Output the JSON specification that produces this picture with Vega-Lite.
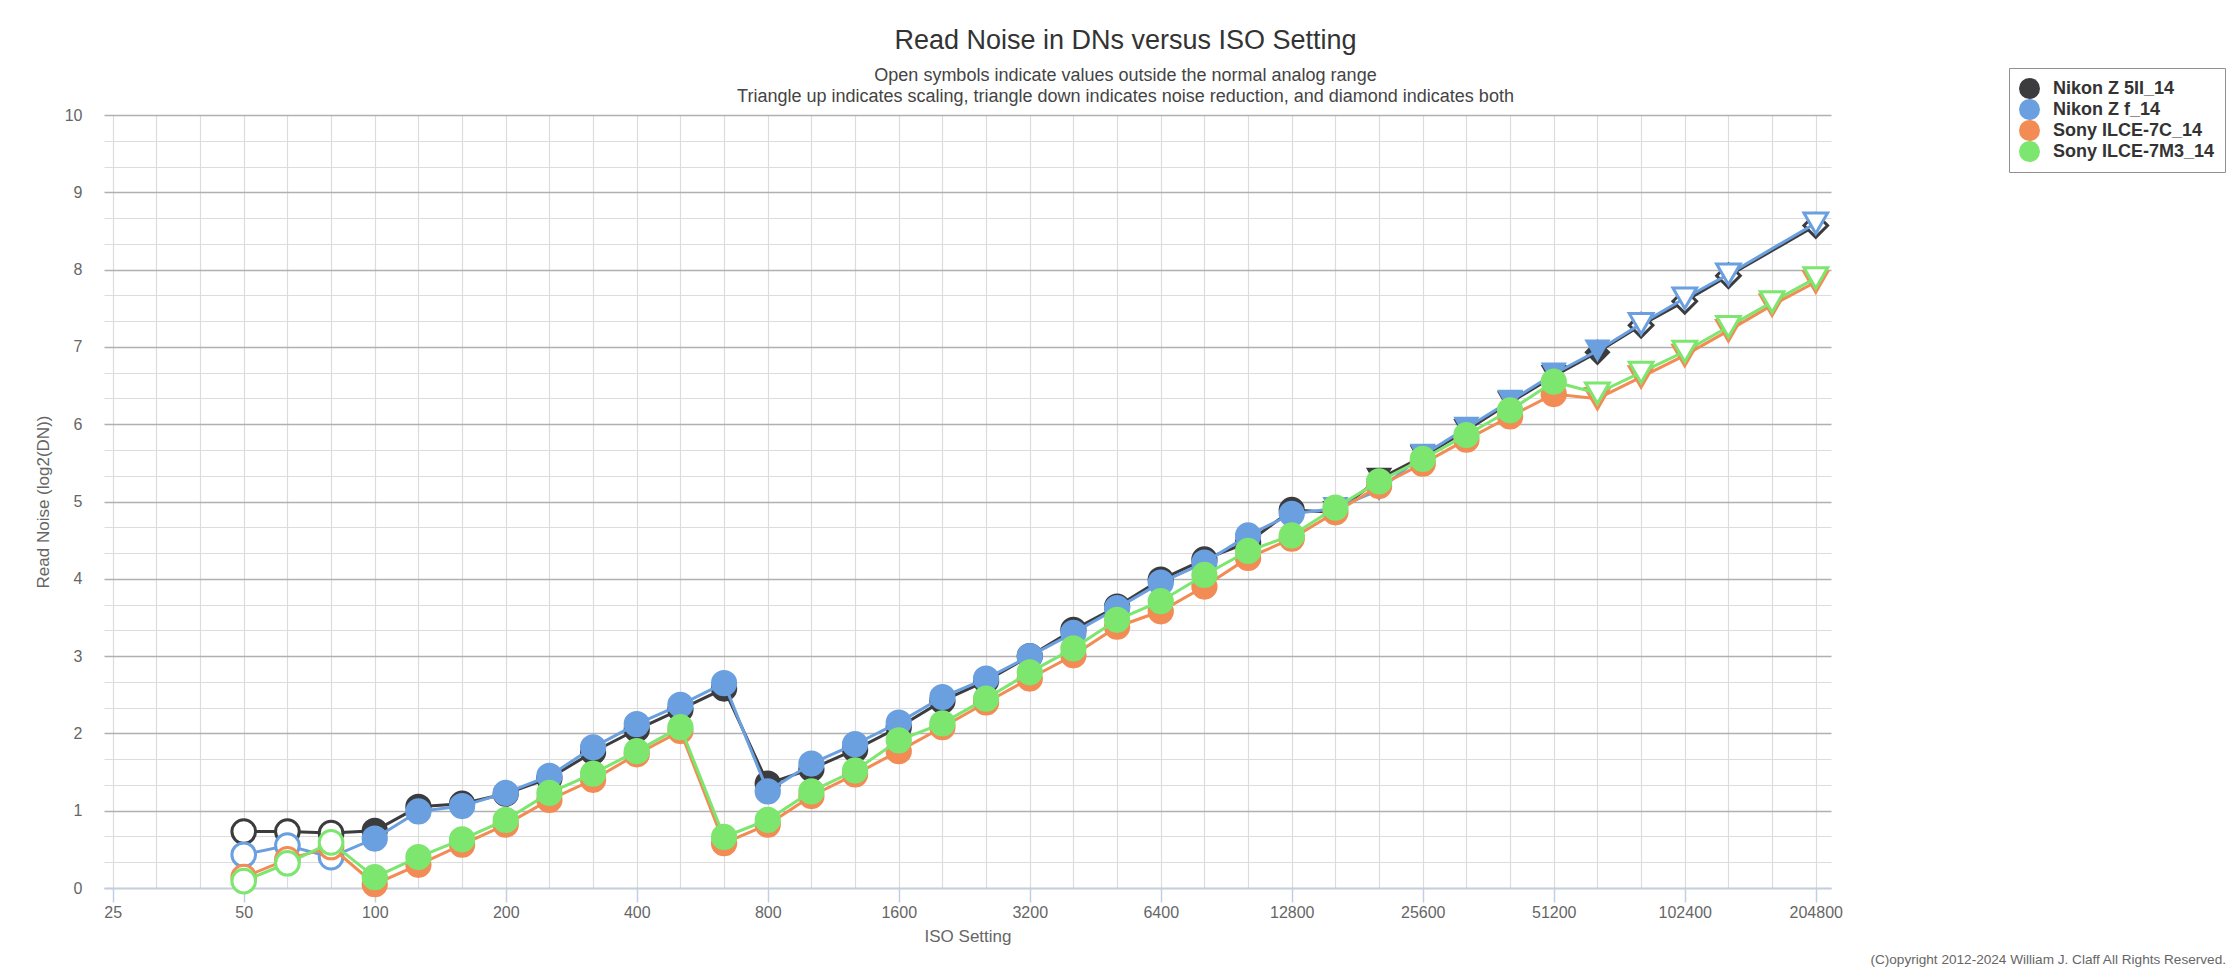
{
"$schema": "https://vega.github.io/schema/vega-lite/v6.json",
"width": 1727, "height": 773,
"autosize": {"type": "none"},
"padding": {"left": 104, "top": 115, "right": 403, "bottom": 83},
"background": "#ffffff",
"config": {"font": "Liberation Sans", "view": {"stroke": null}},
"title": {"text": "Read Noise in DNs versus ISO Setting",
  "subtitle": ["Open symbols indicate values outside the normal analog range", "Triangle up indicates scaling, triangle down indicates noise reduction, and diamond indicates both"],
  "anchor": "middle", "frame": "group", "dx": 158, "dy": 46, "offset": 7,
  "font": "Liberation Sans", "fontSize": 27, "fontWeight": "normal", "color": "#333333",
  "subtitleFont": "Liberation Sans", "subtitleFontSize": 18, "subtitleColor": "#444444", "subtitleLineHeight": 21, "subtitlePadding": 12},
"datasets": {"noise": [
{"camera":"Nikon Z 5II_14","iso":50,"noise":0.73,"marker":"circle","open":true},
{"camera":"Nikon Z 5II_14","iso":62.996,"noise":0.73,"marker":"circle","open":true},
{"camera":"Nikon Z 5II_14","iso":79.37,"noise":0.71,"marker":"circle","open":true},
{"camera":"Nikon Z 5II_14","iso":100,"noise":0.74,"marker":"circle","open":false},
{"camera":"Nikon Z 5II_14","iso":125.99,"noise":1.05,"marker":"circle","open":false},
{"camera":"Nikon Z 5II_14","iso":158.74,"noise":1.09,"marker":"circle","open":false},
{"camera":"Nikon Z 5II_14","iso":200,"noise":1.22,"marker":"circle","open":false},
{"camera":"Nikon Z 5II_14","iso":251.98,"noise":1.42,"marker":"circle","open":false},
{"camera":"Nikon Z 5II_14","iso":317.48,"noise":1.76,"marker":"circle","open":false},
{"camera":"Nikon Z 5II_14","iso":400,"noise":2.05,"marker":"circle","open":false},
{"camera":"Nikon Z 5II_14","iso":503.97,"noise":2.31,"marker":"circle","open":false},
{"camera":"Nikon Z 5II_14","iso":634.96,"noise":2.58,"marker":"circle","open":false},
{"camera":"Nikon Z 5II_14","iso":800,"noise":1.35,"marker":"circle","open":false},
{"camera":"Nikon Z 5II_14","iso":1007.94,"noise":1.54,"marker":"circle","open":false},
{"camera":"Nikon Z 5II_14","iso":1269.92,"noise":1.79,"marker":"circle","open":false},
{"camera":"Nikon Z 5II_14","iso":1600,"noise":2.08,"marker":"circle","open":false},
{"camera":"Nikon Z 5II_14","iso":2015.87,"noise":2.42,"marker":"circle","open":false},
{"camera":"Nikon Z 5II_14","iso":2539.84,"noise":2.68,"marker":"circle","open":false},
{"camera":"Nikon Z 5II_14","iso":3200,"noise":3.0,"marker":"circle","open":false},
{"camera":"Nikon Z 5II_14","iso":4031.75,"noise":3.34,"marker":"circle","open":false},
{"camera":"Nikon Z 5II_14","iso":5079.68,"noise":3.64,"marker":"circle","open":false},
{"camera":"Nikon Z 5II_14","iso":6400,"noise":3.99,"marker":"circle","open":false},
{"camera":"Nikon Z 5II_14","iso":8063.5,"noise":4.25,"marker":"circle","open":false},
{"camera":"Nikon Z 5II_14","iso":10159.37,"noise":4.47,"marker":"circle","open":false},
{"camera":"Nikon Z 5II_14","iso":12800,"noise":4.89,"marker":"circle","open":false},
{"camera":"Nikon Z 5II_14","iso":16126.99,"noise":4.86,"marker":"triangle-down","open":false},
{"camera":"Nikon Z 5II_14","iso":20318.73,"noise":5.29,"marker":"triangle-down","open":false},
{"camera":"Nikon Z 5II_14","iso":25600,"noise":5.58,"marker":"triangle-down","open":false},
{"camera":"Nikon Z 5II_14","iso":32253.98,"noise":5.92,"marker":"triangle-down","open":false},
{"camera":"Nikon Z 5II_14","iso":40637.47,"noise":6.28,"marker":"triangle-down","open":false},
{"camera":"Nikon Z 5II_14","iso":51200,"noise":6.62,"marker":"triangle-down","open":false},
{"camera":"Nikon Z 5II_14","iso":64507.96,"noise":6.93,"marker":"diamond","open":false},
{"camera":"Nikon Z 5II_14","iso":81274.93,"noise":7.28,"marker":"diamond","open":true},
{"camera":"Nikon Z 5II_14","iso":102400,"noise":7.59,"marker":"diamond","open":true},
{"camera":"Nikon Z 5II_14","iso":129015.92,"noise":7.92,"marker":"diamond","open":true},
{"camera":"Nikon Z 5II_14","iso":204800,"noise":8.57,"marker":"diamond","open":true},
{"camera":"Nikon Z f_14","iso":50,"noise":0.43,"marker":"circle","open":true},
{"camera":"Nikon Z f_14","iso":62.996,"noise":0.55,"marker":"circle","open":true},
{"camera":"Nikon Z f_14","iso":79.37,"noise":0.40,"marker":"circle","open":true},
{"camera":"Nikon Z f_14","iso":100,"noise":0.64,"marker":"circle","open":false},
{"camera":"Nikon Z f_14","iso":125.99,"noise":0.99,"marker":"circle","open":false},
{"camera":"Nikon Z f_14","iso":158.74,"noise":1.06,"marker":"circle","open":false},
{"camera":"Nikon Z f_14","iso":200,"noise":1.23,"marker":"circle","open":false},
{"camera":"Nikon Z f_14","iso":251.98,"noise":1.45,"marker":"circle","open":false},
{"camera":"Nikon Z f_14","iso":317.48,"noise":1.82,"marker":"circle","open":false},
{"camera":"Nikon Z f_14","iso":400,"noise":2.12,"marker":"circle","open":false},
{"camera":"Nikon Z f_14","iso":503.97,"noise":2.37,"marker":"circle","open":false},
{"camera":"Nikon Z f_14","iso":634.96,"noise":2.65,"marker":"circle","open":false},
{"camera":"Nikon Z f_14","iso":800,"noise":1.25,"marker":"circle","open":false},
{"camera":"Nikon Z f_14","iso":1007.94,"noise":1.61,"marker":"circle","open":false},
{"camera":"Nikon Z f_14","iso":1269.92,"noise":1.86,"marker":"circle","open":false},
{"camera":"Nikon Z f_14","iso":1600,"noise":2.14,"marker":"circle","open":false},
{"camera":"Nikon Z f_14","iso":2015.87,"noise":2.47,"marker":"circle","open":false},
{"camera":"Nikon Z f_14","iso":2539.84,"noise":2.71,"marker":"circle","open":false},
{"camera":"Nikon Z f_14","iso":3200,"noise":3.0,"marker":"circle","open":false},
{"camera":"Nikon Z f_14","iso":4031.75,"noise":3.30,"marker":"circle","open":false},
{"camera":"Nikon Z f_14","iso":5079.68,"noise":3.62,"marker":"circle","open":false},
{"camera":"Nikon Z f_14","iso":6400,"noise":3.95,"marker":"circle","open":false},
{"camera":"Nikon Z f_14","iso":8063.5,"noise":4.21,"marker":"circle","open":false},
{"camera":"Nikon Z f_14","iso":10159.37,"noise":4.56,"marker":"circle","open":false},
{"camera":"Nikon Z f_14","iso":12800,"noise":4.84,"marker":"circle","open":false},
{"camera":"Nikon Z f_14","iso":16126.99,"noise":4.91,"marker":"triangle-down","open":false},
{"camera":"Nikon Z f_14","iso":20318.73,"noise":5.15,"marker":"triangle-down","open":false},
{"camera":"Nikon Z f_14","iso":25600,"noise":5.60,"marker":"triangle-down","open":false},
{"camera":"Nikon Z f_14","iso":32253.98,"noise":5.95,"marker":"triangle-down","open":false},
{"camera":"Nikon Z f_14","iso":40637.47,"noise":6.30,"marker":"triangle-down","open":false},
{"camera":"Nikon Z f_14","iso":51200,"noise":6.65,"marker":"triangle-down","open":false},
{"camera":"Nikon Z f_14","iso":64507.96,"noise":6.95,"marker":"triangle-down","open":false},
{"camera":"Nikon Z f_14","iso":81274.93,"noise":7.30,"marker":"triangle-down","open":true},
{"camera":"Nikon Z f_14","iso":102400,"noise":7.63,"marker":"triangle-down","open":true},
{"camera":"Nikon Z f_14","iso":129015.92,"noise":7.94,"marker":"triangle-down","open":true},
{"camera":"Nikon Z f_14","iso":204800,"noise":8.60,"marker":"triangle-down","open":true},
{"camera":"Sony ILCE-7C_14","iso":50,"noise":0.14,"marker":"circle","open":true},
{"camera":"Sony ILCE-7C_14","iso":62.996,"noise":0.37,"marker":"circle","open":true},
{"camera":"Sony ILCE-7C_14","iso":79.37,"noise":0.53,"marker":"circle","open":true},
{"camera":"Sony ILCE-7C_14","iso":100,"noise":0.05,"marker":"circle","open":false},
{"camera":"Sony ILCE-7C_14","iso":125.99,"noise":0.30,"marker":"circle","open":false},
{"camera":"Sony ILCE-7C_14","iso":158.74,"noise":0.56,"marker":"circle","open":false},
{"camera":"Sony ILCE-7C_14","iso":200,"noise":0.82,"marker":"circle","open":false},
{"camera":"Sony ILCE-7C_14","iso":251.98,"noise":1.14,"marker":"circle","open":false},
{"camera":"Sony ILCE-7C_14","iso":317.48,"noise":1.40,"marker":"circle","open":false},
{"camera":"Sony ILCE-7C_14","iso":400,"noise":1.73,"marker":"circle","open":false},
{"camera":"Sony ILCE-7C_14","iso":503.97,"noise":2.03,"marker":"circle","open":false},
{"camera":"Sony ILCE-7C_14","iso":634.96,"noise":0.58,"marker":"circle","open":false},
{"camera":"Sony ILCE-7C_14","iso":800,"noise":0.82,"marker":"circle","open":false},
{"camera":"Sony ILCE-7C_14","iso":1007.94,"noise":1.19,"marker":"circle","open":false},
{"camera":"Sony ILCE-7C_14","iso":1269.92,"noise":1.47,"marker":"circle","open":false},
{"camera":"Sony ILCE-7C_14","iso":1600,"noise":1.77,"marker":"circle","open":false},
{"camera":"Sony ILCE-7C_14","iso":2015.87,"noise":2.08,"marker":"circle","open":false},
{"camera":"Sony ILCE-7C_14","iso":2539.84,"noise":2.40,"marker":"circle","open":false},
{"camera":"Sony ILCE-7C_14","iso":3200,"noise":2.71,"marker":"circle","open":false},
{"camera":"Sony ILCE-7C_14","iso":4031.75,"noise":3.01,"marker":"circle","open":false},
{"camera":"Sony ILCE-7C_14","iso":5079.68,"noise":3.38,"marker":"circle","open":false},
{"camera":"Sony ILCE-7C_14","iso":6400,"noise":3.58,"marker":"circle","open":false},
{"camera":"Sony ILCE-7C_14","iso":8063.5,"noise":3.90,"marker":"circle","open":false},
{"camera":"Sony ILCE-7C_14","iso":10159.37,"noise":4.27,"marker":"circle","open":false},
{"camera":"Sony ILCE-7C_14","iso":12800,"noise":4.52,"marker":"circle","open":false},
{"camera":"Sony ILCE-7C_14","iso":16126.99,"noise":4.86,"marker":"circle","open":false},
{"camera":"Sony ILCE-7C_14","iso":20318.73,"noise":5.20,"marker":"circle","open":false},
{"camera":"Sony ILCE-7C_14","iso":25600,"noise":5.49,"marker":"circle","open":false},
{"camera":"Sony ILCE-7C_14","iso":32253.98,"noise":5.80,"marker":"circle","open":false},
{"camera":"Sony ILCE-7C_14","iso":40637.47,"noise":6.10,"marker":"circle","open":false},
{"camera":"Sony ILCE-7C_14","iso":51200,"noise":6.39,"marker":"circle","open":false},
{"camera":"Sony ILCE-7C_14","iso":64507.96,"noise":6.33,"marker":"triangle-down","open":true},
{"camera":"Sony ILCE-7C_14","iso":81274.93,"noise":6.61,"marker":"triangle-down","open":true},
{"camera":"Sony ILCE-7C_14","iso":102400,"noise":6.89,"marker":"triangle-down","open":true},
{"camera":"Sony ILCE-7C_14","iso":129015.92,"noise":7.21,"marker":"triangle-down","open":true},
{"camera":"Sony ILCE-7C_14","iso":162549.86,"noise":7.54,"marker":"triangle-down","open":true},
{"camera":"Sony ILCE-7C_14","iso":204800,"noise":7.84,"marker":"triangle-down","open":true},
{"camera":"Sony ILCE-7M3_14","iso":50,"noise":0.09,"marker":"circle","open":true},
{"camera":"Sony ILCE-7M3_14","iso":62.996,"noise":0.32,"marker":"circle","open":true},
{"camera":"Sony ILCE-7M3_14","iso":79.37,"noise":0.59,"marker":"circle","open":true},
{"camera":"Sony ILCE-7M3_14","iso":100,"noise":0.14,"marker":"circle","open":false},
{"camera":"Sony ILCE-7M3_14","iso":125.99,"noise":0.40,"marker":"circle","open":false},
{"camera":"Sony ILCE-7M3_14","iso":158.74,"noise":0.63,"marker":"circle","open":false},
{"camera":"Sony ILCE-7M3_14","iso":200,"noise":0.88,"marker":"circle","open":false},
{"camera":"Sony ILCE-7M3_14","iso":251.98,"noise":1.23,"marker":"circle","open":false},
{"camera":"Sony ILCE-7M3_14","iso":317.48,"noise":1.48,"marker":"circle","open":false},
{"camera":"Sony ILCE-7M3_14","iso":400,"noise":1.77,"marker":"circle","open":false},
{"camera":"Sony ILCE-7M3_14","iso":503.97,"noise":2.08,"marker":"circle","open":false},
{"camera":"Sony ILCE-7M3_14","iso":634.96,"noise":0.66,"marker":"circle","open":false},
{"camera":"Sony ILCE-7M3_14","iso":800,"noise":0.88,"marker":"circle","open":false},
{"camera":"Sony ILCE-7M3_14","iso":1007.94,"noise":1.25,"marker":"circle","open":false},
{"camera":"Sony ILCE-7M3_14","iso":1269.92,"noise":1.52,"marker":"circle","open":false},
{"camera":"Sony ILCE-7M3_14","iso":1600,"noise":1.91,"marker":"circle","open":false},
{"camera":"Sony ILCE-7M3_14","iso":2015.87,"noise":2.13,"marker":"circle","open":false},
{"camera":"Sony ILCE-7M3_14","iso":2539.84,"noise":2.45,"marker":"circle","open":false},
{"camera":"Sony ILCE-7M3_14","iso":3200,"noise":2.79,"marker":"circle","open":false},
{"camera":"Sony ILCE-7M3_14","iso":4031.75,"noise":3.10,"marker":"circle","open":false},
{"camera":"Sony ILCE-7M3_14","iso":5079.68,"noise":3.47,"marker":"circle","open":false},
{"camera":"Sony ILCE-7M3_14","iso":6400,"noise":3.71,"marker":"circle","open":false},
{"camera":"Sony ILCE-7M3_14","iso":8063.5,"noise":4.05,"marker":"circle","open":false},
{"camera":"Sony ILCE-7M3_14","iso":10159.37,"noise":4.36,"marker":"circle","open":false},
{"camera":"Sony ILCE-7M3_14","iso":12800,"noise":4.56,"marker":"circle","open":false},
{"camera":"Sony ILCE-7M3_14","iso":16126.99,"noise":4.92,"marker":"circle","open":false},
{"camera":"Sony ILCE-7M3_14","iso":20318.73,"noise":5.26,"marker":"circle","open":false},
{"camera":"Sony ILCE-7M3_14","iso":25600,"noise":5.55,"marker":"circle","open":false},
{"camera":"Sony ILCE-7M3_14","iso":32253.98,"noise":5.86,"marker":"circle","open":false},
{"camera":"Sony ILCE-7M3_14","iso":40637.47,"noise":6.18,"marker":"circle","open":false},
{"camera":"Sony ILCE-7M3_14","iso":51200,"noise":6.55,"marker":"circle","open":false},
{"camera":"Sony ILCE-7M3_14","iso":64507.96,"noise":6.40,"marker":"triangle-down","open":true},
{"camera":"Sony ILCE-7M3_14","iso":81274.93,"noise":6.67,"marker":"triangle-down","open":true},
{"camera":"Sony ILCE-7M3_14","iso":102400,"noise":6.94,"marker":"triangle-down","open":true},
{"camera":"Sony ILCE-7M3_14","iso":129015.92,"noise":7.26,"marker":"triangle-down","open":true},
{"camera":"Sony ILCE-7M3_14","iso":162549.86,"noise":7.58,"marker":"triangle-down","open":true},
{"camera":"Sony ILCE-7M3_14","iso":204800,"noise":7.89,"marker":"triangle-down","open":true}
],
"note": [{"note": "(C)opyright 2012-2024 William J. Claff All Rights Reserved.", "iso": 1795000, "noise": -0.93}]},
"data": {"name": "noise"},
"encoding": {
  "x": {"field": "iso", "type": "quantitative",
    "scale": {"type": "log", "base": 2, "domain": [23.87, 222000], "nice": false, "zero": false},
    "axis": {"title": "ISO Setting",
      "values": [25,31.498,39.685,50,62.996,79.37,100,125.992,158.74,200,251.984,317.48,400,503.968,634.96,800,1007.937,1269.921,1600,2015.874,2539.842,3200,4031.747,5079.683,6400,8063.495,10159.367,12800,16126.989,20318.733,25600,32253.979,40637.466,51200,64507.958,81274.931,102400,129015.916,162549.863,204800],
      "tickCount": 200,
      "format": "d",
      "labelExpr": "abs(log(datum.value/25)/log(2) - round(log(datum.value/25)/log(2))) < 0.01 ? datum.label : ''",
      "labelOverlap": false, "labelFlush": false,
      "labelFont": "Liberation Sans", "labelFontSize": 16, "labelColor": "#666666", "labelPadding": 2,
      "tickSize": 14, "tickWidth": 1.5, "tickColor": "#c3cfe0",
      "tickOpacity": {"condition": {"test": "abs(log(datum.value/25)/log(2) - round(log(datum.value/25)/log(2))) < 0.01", "value": 1}, "value": 0},
      "domainColor": "#c3cfe0", "domainWidth": 1.5,
      "grid": true, "gridColor": "#dcdcdc", "gridWidth": 1.2,
      "titleFont": "Liberation Sans", "titleFontSize": 17, "titleColor": "#666666", "titleFontWeight": "normal", "titlePadding": 8}},
  "y": {"field": "noise", "type": "quantitative",
    "scale": {"domain": [0, 10], "nice": false, "zero": true},
    "axis": {"title": "Read Noise (log2(DN))",
      "values": [0,0.33333,0.66667,1,1.33333,1.66667,2,2.33333,2.66667,3,3.33333,3.66667,4,4.33333,4.66667,5,5.33333,5.66667,6,6.33333,6.66667,7,7.33333,7.66667,8,8.33333,8.66667,9,9.33333,9.66667,10],
      "tickCount": 200, "tickMinStep": 0.1,
      "labelExpr": "abs(datum.value - round(datum.value)) < 0.001 ? '' + round(datum.value) : ''",
      "labelOverlap": false,
      "ticks": false, "domain": false, "labelPadding": 22,
      "labelFont": "Liberation Sans", "labelFontSize": 16, "labelColor": "#666666",
      "grid": true,
      "gridColor": {"condition": {"test": "abs(datum.value - round(datum.value)) < 0.001", "value": "#b0b0b0"}, "value": "#dcdcdc"},
      "gridWidth": {"condition": {"test": "abs(datum.value - round(datum.value)) < 0.001", "value": 1.6}, "value": 1.2},
      "titleFont": "Liberation Sans", "titleFontSize": 17, "titleColor": "#666666", "titleFontWeight": "normal", "titlePadding": 12}}
},
"layer": [
  {"data": {"name": "note"},
   "mark": {"type": "text", "align": "right", "font": "Liberation Sans", "fontSize": 13.6, "color": "#666666"},
   "encoding": {"text": {"field": "note", "type": "nominal"}}},
  {"transform": [{"filter": {"field": "camera", "equal": "Nikon Z 5II_14"}}],
   "mark": {"type": "line", "strokeWidth": 3},
   "encoding": {"color": {"field": "camera", "type": "nominal", "scale": {"domain": ["Nikon Z 5II_14","Nikon Z f_14","Sony ILCE-7C_14","Sony ILCE-7M3_14"], "range": ["#3c3c3e","#6a9fe0","#f28b54","#7ce66e"]},
     "legend": {"title": null, "orient": "none", "legendX": 1905, "legendY": -47, "symbolType": "circle", "symbolSize": 441, "symbolStrokeWidth": 0, "symbolOpacity": 1, "labelFont": "Liberation Sans", "labelFontSize": 18, "labelFontWeight": "bold", "labelColor": "#333333", "labelOffset": 13, "rowPadding": 0, "padding": 10, "strokeColor": "#909090", "fillColor": "#ffffff", "labelLimit": 400,
       "encode": {"symbols": {"update": {"fill": {"scale": "color", "field": "value"}, "shape": {"value": "circle"}, "strokeWidth": {"value": 0}}}}}}}},
  {"transform": [{"filter": {"field": "camera", "equal": "Nikon Z 5II_14"}}],
   "mark": {"type": "point", "filled": true, "opacity": 1},
   "encoding": {
     "fill": {"field": "camera", "type": "nominal", "scale": {"domain": ["Nikon Z 5II_14","Nikon Z f_14","Sony ILCE-7C_14","Sony ILCE-7M3_14"], "range": ["#3c3c3e","#6a9fe0","#f28b54","#7ce66e"]}, "legend": null, "condition": {"test": "datum.open", "value": "#ffffff"}},
     "stroke": {"field": "camera", "type": "nominal", "scale": {"domain": ["Nikon Z 5II_14","Nikon Z f_14","Sony ILCE-7C_14","Sony ILCE-7M3_14"], "range": ["#3c3c3e","#6a9fe0","#f28b54","#7ce66e"]}, "legend": null},
     "strokeWidth": {"condition": {"test": "datum.open", "value": 3}, "value": 0},
     "shape": {"field": "marker", "type": "nominal", "scale": {"domain": ["circle","triangle-down","diamond"], "range": ["circle","triangle-down","diamond"]}, "legend": null},
     "size": {"condition": {"test": "datum.open", "value": 560}, "value": 690}}},
  {"transform": [{"filter": {"field": "camera", "equal": "Nikon Z f_14"}}],
   "mark": {"type": "line", "strokeWidth": 3},
   "encoding": {"color": {"field": "camera", "type": "nominal", "scale": {"domain": ["Nikon Z 5II_14","Nikon Z f_14","Sony ILCE-7C_14","Sony ILCE-7M3_14"], "range": ["#3c3c3e","#6a9fe0","#f28b54","#7ce66e"]},
     "legend": {"title": null, "orient": "none", "legendX": 1905, "legendY": -47, "symbolType": "circle", "symbolSize": 441, "symbolStrokeWidth": 0, "symbolOpacity": 1, "labelFont": "Liberation Sans", "labelFontSize": 18, "labelFontWeight": "bold", "labelColor": "#333333", "labelOffset": 13, "rowPadding": 0, "padding": 10, "strokeColor": "#909090", "fillColor": "#ffffff", "labelLimit": 400,
       "encode": {"symbols": {"update": {"fill": {"scale": "color", "field": "value"}, "shape": {"value": "circle"}, "strokeWidth": {"value": 0}}}}}}}},
  {"transform": [{"filter": {"field": "camera", "equal": "Nikon Z f_14"}}],
   "mark": {"type": "point", "filled": true, "opacity": 1},
   "encoding": {
     "fill": {"field": "camera", "type": "nominal", "scale": {"domain": ["Nikon Z 5II_14","Nikon Z f_14","Sony ILCE-7C_14","Sony ILCE-7M3_14"], "range": ["#3c3c3e","#6a9fe0","#f28b54","#7ce66e"]}, "legend": null, "condition": {"test": "datum.open", "value": "#ffffff"}},
     "stroke": {"field": "camera", "type": "nominal", "scale": {"domain": ["Nikon Z 5II_14","Nikon Z f_14","Sony ILCE-7C_14","Sony ILCE-7M3_14"], "range": ["#3c3c3e","#6a9fe0","#f28b54","#7ce66e"]}, "legend": null},
     "strokeWidth": {"condition": {"test": "datum.open", "value": 3}, "value": 0},
     "shape": {"field": "marker", "type": "nominal", "scale": {"domain": ["circle","triangle-down","diamond"], "range": ["circle","triangle-down","diamond"]}, "legend": null},
     "size": {"condition": {"test": "datum.open", "value": 560}, "value": 690}}},
  {"transform": [{"filter": {"field": "camera", "equal": "Sony ILCE-7C_14"}}],
   "mark": {"type": "line", "strokeWidth": 3},
   "encoding": {"color": {"field": "camera", "type": "nominal", "scale": {"domain": ["Nikon Z 5II_14","Nikon Z f_14","Sony ILCE-7C_14","Sony ILCE-7M3_14"], "range": ["#3c3c3e","#6a9fe0","#f28b54","#7ce66e"]},
     "legend": {"title": null, "orient": "none", "legendX": 1905, "legendY": -47, "symbolType": "circle", "symbolSize": 441, "symbolStrokeWidth": 0, "symbolOpacity": 1, "labelFont": "Liberation Sans", "labelFontSize": 18, "labelFontWeight": "bold", "labelColor": "#333333", "labelOffset": 13, "rowPadding": 0, "padding": 10, "strokeColor": "#909090", "fillColor": "#ffffff", "labelLimit": 400,
       "encode": {"symbols": {"update": {"fill": {"scale": "color", "field": "value"}, "shape": {"value": "circle"}, "strokeWidth": {"value": 0}}}}}}}},
  {"transform": [{"filter": {"field": "camera", "equal": "Sony ILCE-7C_14"}}],
   "mark": {"type": "point", "filled": true, "opacity": 1},
   "encoding": {
     "fill": {"field": "camera", "type": "nominal", "scale": {"domain": ["Nikon Z 5II_14","Nikon Z f_14","Sony ILCE-7C_14","Sony ILCE-7M3_14"], "range": ["#3c3c3e","#6a9fe0","#f28b54","#7ce66e"]}, "legend": null, "condition": {"test": "datum.open", "value": "#ffffff"}},
     "stroke": {"field": "camera", "type": "nominal", "scale": {"domain": ["Nikon Z 5II_14","Nikon Z f_14","Sony ILCE-7C_14","Sony ILCE-7M3_14"], "range": ["#3c3c3e","#6a9fe0","#f28b54","#7ce66e"]}, "legend": null},
     "strokeWidth": {"condition": {"test": "datum.open", "value": 3}, "value": 0},
     "shape": {"field": "marker", "type": "nominal", "scale": {"domain": ["circle","triangle-down","diamond"], "range": ["circle","triangle-down","diamond"]}, "legend": null},
     "size": {"condition": {"test": "datum.open", "value": 560}, "value": 690}}},
  {"transform": [{"filter": {"field": "camera", "equal": "Sony ILCE-7M3_14"}}],
   "mark": {"type": "line", "strokeWidth": 3},
   "encoding": {"color": {"field": "camera", "type": "nominal", "scale": {"domain": ["Nikon Z 5II_14","Nikon Z f_14","Sony ILCE-7C_14","Sony ILCE-7M3_14"], "range": ["#3c3c3e","#6a9fe0","#f28b54","#7ce66e"]},
     "legend": {"title": null, "orient": "none", "legendX": 1905, "legendY": -47, "symbolType": "circle", "symbolSize": 441, "symbolStrokeWidth": 0, "symbolOpacity": 1, "labelFont": "Liberation Sans", "labelFontSize": 18, "labelFontWeight": "bold", "labelColor": "#333333", "labelOffset": 13, "rowPadding": 0, "padding": 10, "strokeColor": "#909090", "fillColor": "#ffffff", "labelLimit": 400,
       "encode": {"symbols": {"update": {"fill": {"scale": "color", "field": "value"}, "shape": {"value": "circle"}, "strokeWidth": {"value": 0}}}}}}}},
  {"transform": [{"filter": {"field": "camera", "equal": "Sony ILCE-7M3_14"}}],
   "mark": {"type": "point", "filled": true, "opacity": 1},
   "encoding": {
     "fill": {"field": "camera", "type": "nominal", "scale": {"domain": ["Nikon Z 5II_14","Nikon Z f_14","Sony ILCE-7C_14","Sony ILCE-7M3_14"], "range": ["#3c3c3e","#6a9fe0","#f28b54","#7ce66e"]}, "legend": null, "condition": {"test": "datum.open", "value": "#ffffff"}},
     "stroke": {"field": "camera", "type": "nominal", "scale": {"domain": ["Nikon Z 5II_14","Nikon Z f_14","Sony ILCE-7C_14","Sony ILCE-7M3_14"], "range": ["#3c3c3e","#6a9fe0","#f28b54","#7ce66e"]}, "legend": null},
     "strokeWidth": {"condition": {"test": "datum.open", "value": 3}, "value": 0},
     "shape": {"field": "marker", "type": "nominal", "scale": {"domain": ["circle","triangle-down","diamond"], "range": ["circle","triangle-down","diamond"]}, "legend": null},
     "size": {"condition": {"test": "datum.open", "value": 560}, "value": 690}}}
]
}
